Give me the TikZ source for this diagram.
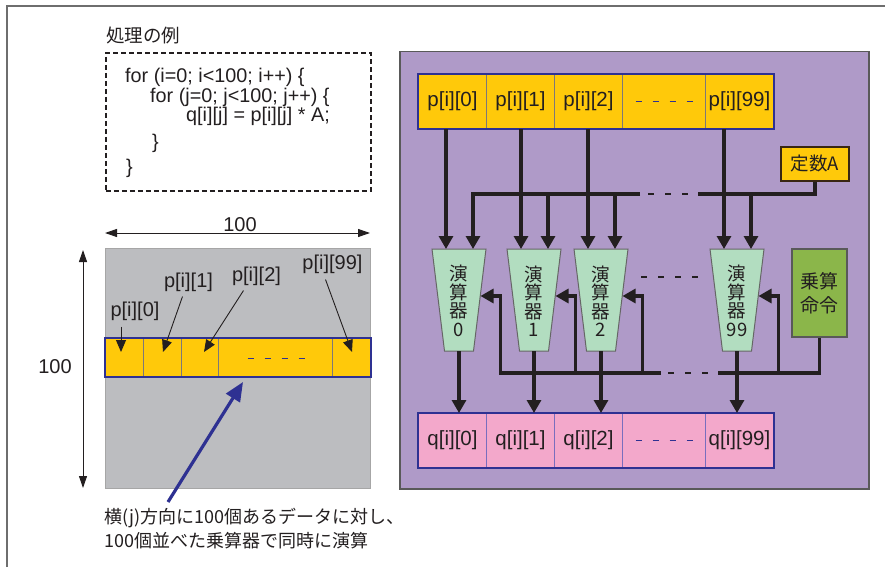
\documentclass[tikz,border=0pt]{standalone}
\usepackage{fontspec}
\setmainfont{Liberation Sans}
\newfontfamily\jp{Noto Sans CJK JP}
\usetikzlibrary{arrows.meta}
\definecolor{ylw}{RGB}{255,201,10}
\definecolor{purp}{RGB}{175,154,200}
\definecolor{gsq}{RGB}{188,189,192}
\definecolor{alug}{RGB}{178,221,192}
\definecolor{mulg}{RGB}{139,182,74}
\definecolor{pinkc}{RGB}{243,168,203}
\definecolor{navy}{RGB}{46,49,146}
\definecolor{blk}{RGB}{35,31,32}
\definecolor{divg}{RGB}{125,120,120}
\definecolor{qdiv}{RGB}{120,110,190}
\definecolor{framec}{RGB}{110,110,110}
\tikzset{
  latin/.style={font=\fontsize{20}{20}\selectfont},
  codeline/.style={anchor=west, inner sep=0pt, font=\fontsize{19.8}{19.8}\selectfont, text=blk},
  cellbox/.style={anchor=north west, inner sep=0pt, line width=1pt, minimum height=54pt, font=\fontsize{20.5}{20.5}\selectfont, text=blk},
  pcell/.style={cellbox, fill=ylw, draw=divg},
  qcell/.style={cellbox, fill=pinkc, draw=qdiv},
  lcell/.style={anchor=north west, inner sep=0pt, fill=ylw, draw=divg, line width=1pt, minimum height=38pt},
  bus/.style={draw=blk, line width=3.1pt},
  arr/.style={bus, -{Triangle[width=14pt,length=13pt]}},
  busdash/.style={draw=blk, line width=2.2pt, dash pattern=on 6pt off 11pt},
  bluedash/.style={draw=navy, line width=1.8pt, dash pattern=on 6pt off 11pt},
  thinarr/.style={draw=blk, line width=0.9pt, -{Triangle[width=10pt,length=12pt]}},
  dimarr/.style={draw=blk, line width=1pt, {Triangle[width=8pt,length=12pt]}-{Triangle[width=8pt,length=12pt]}},
  alubox/.style={fill=alug, draw=black!60, line width=1pt},
  alutext/.style={inner sep=0pt, align=center, font=\jp\fontsize{18.5}{18.5}\selectfont, text=blk},
  jplabel/.style={inner sep=0pt, font=\jp\fontsize{18.5}{24}\selectfont, text=blk}
}
\begin{document}
\begin{tikzpicture}[x=1pt,y=-1pt]
\useasboundingbox (0,0) rectangle (885,567);
\fill[white] (0,0) rectangle (885,567);
\draw[framec, line width=1.5pt] (7,567) -- (7,6) -- (885,6);

% ---------- left: code example ----------
\node[jplabel, anchor=west] (title) at (106,35) {処理の例};
\node[draw=blk, dashed, line width=1.8pt, dash pattern=on 5pt off 3pt, minimum width=265pt, minimum height=138pt, anchor=north west, inner sep=0pt] (codebox) at (105,52) {};
\node[codeline] (c1) at (125,77) {for (i=0; i<100; i++) \{};
\node[codeline] (c2) at (150,97) {for (j=0; j<100; j++) \{};
\node[codeline] (c3) at (186,116) {q[i][j] = p[i][j] * A;};
\node[codeline] (c4) at (152,143) {\}};
\node[codeline] (c5) at (126,168) {\}};

% ---------- left: data matrix ----------
\coordinate (dh1) at (105,233);
\coordinate (dh2) at (370,233);
\draw[dimarr] (dh1) -- (dh2);
\node[latin, inner sep=0pt, text=blk] (w100) at (240,225) {100};
\coordinate (dv1) at (83,250);
\coordinate (dv2) at (83,488);
\draw[dimarr] (dv1) -- (dv2);
\node[latin, inner sep=0pt, text=blk] (h100) at (55,367) {100};

\node[fill=gsq, draw=black!35, line width=1pt, minimum width=265pt, minimum height=240pt, anchor=north west, inner sep=0pt] (sq) at (105,248) {};
\node[lcell, minimum width=38pt] (l0) at (105,338) {};
\node[lcell, minimum width=38pt] (l1) at (143,338) {};
\node[lcell, minimum width=37pt] (l2) at (181,338) {};
\node[lcell, minimum width=114pt] (ld) at (218,338) {};
\node[lcell, minimum width=38pt] (l99) at (332,338) {};
\draw[navy, line width=2pt] (l0.north west) rectangle (l99.south east);
\draw[bluedash] ([xshift=-28pt,yshift=-1pt]ld.center) -- ([xshift=29pt,yshift=-1pt]ld.center);

\node[latin, inner sep=0pt, text=blk] (lab0) at (135,311) {p[i][0]};
\node[latin, inner sep=0pt, text=blk] (lab1) at (188.5,282) {p[i][1]};
\node[latin, inner sep=0pt, text=blk] (lab2) at (256.5,276) {p[i][2]};
\node[latin, inner sep=0pt, text=blk] (lab99) at (332.5,264) {p[i][99]};
\coordinate (t0) at (121,352);
\coordinate (t1) at (163,352);
\coordinate (t2) at (204,352);
\coordinate (t99) at (352,352);
\draw[thinarr] ([xshift=-14pt,yshift=-6pt]lab0.south) -- (t0);
\draw[thinarr] ([xshift=-6pt,yshift=-5pt]lab1.south) -- (t1);
\draw[thinarr] ([xshift=-13pt,yshift=-5pt]lab2.south) -- (t2);
\draw[thinarr] ([xshift=-7pt,yshift=-6pt]lab99.south) -- (t99);

\node[anchor=west, inner sep=0pt, font=\jp\fontsize{18}{20}\selectfont, text=blk] (cap1) at (104,518) {横(j)方向に100個あるデータに対し、};
\node[anchor=west, inner sep=0pt, font=\jp\fontsize{18}{20}\selectfont, text=blk] (cap2) at (104,541) {100個並べた乗算器で同時に演算};
\coordinate (bs) at (168,502);
\coordinate (bt) at (243,382);
\draw[draw=navy, line width=3.2pt, -{Triangle[width=16pt,length=19pt]}] (bs) -- (bt);

% ---------- right: hardware ----------
\node[fill=purp, draw=black!65, line width=1.5pt, minimum width=469pt, minimum height=437pt, anchor=north west, inner sep=0pt] (panel) at (399,51) {};

\node[pcell, minimum width=68pt] (p0) at (418,74) {p[i][0]};
\node[pcell, minimum width=68pt] (p1) at (486,74) {p[i][1]};
\node[pcell, minimum width=68pt] (p2) at (554,74) {p[i][2]};
\node[pcell, minimum width=83pt] (pd) at (622,74) {};
\node[pcell, minimum width=68pt] (p99) at (705,74) {p[i][99]};
\draw[navy, line width=2pt] (p0.north west) rectangle (p99.south east);
\draw[bluedash] ([xshift=-28.5pt]pd.center) -- ([xshift=28.5pt]pd.center);

\node[qcell, minimum width=68pt] (q0) at (418,413) {q[i][0]};
\node[qcell, minimum width=68pt] (q1) at (486,413) {q[i][1]};
\node[qcell, minimum width=68pt] (q2) at (554,413) {q[i][2]};
\node[qcell, minimum width=83pt] (qd) at (622,413) {};
\node[qcell, minimum width=68pt] (q99) at (705,413) {q[i][99]};
\draw[navy, line width=2pt] (q0.north west) rectangle (q99.south east);
\draw[bluedash] ([xshift=-28.5pt]qd.center) -- ([xshift=28.5pt]qd.center);

\node[fill=ylw, draw=black!70!brown, line width=1.2pt, minimum width=68pt, minimum height=34pt, inner sep=0pt, font=\jp\fontsize{18.5}{18.5}\selectfont, text=blk] (cA) at (815,164) {定数A};
\node[fill=mulg, draw=black!65, line width=1.2pt, minimum width=55pt, minimum height=88pt, inner sep=0pt, align=center, font=\jp\fontsize{19}{24}\selectfont, text=blk] (mul) at (819.5,293) {乗算\\命令};

% ALUs
\foreach \n/\c in {0/459, 1/534, 2/601, 99/737}{
  \draw[alubox] (\c-27,249) -- (\c+27,249) -- (\c+14.5,351) -- (\c-14.5,351) -- cycle;
  \node[alutext] (a\n) at (\c,301) {演\\算\\器\\\n};
  \coordinate (ina-\n) at (\c-13,249);
  \coordinate (inb-\n) at (\c+14,249);
  \coordinate (out-\n) at (\c,351);
  \coordinate (side-\n) at (\c+21.5,296);
  \coordinate (ctl-\n) at (\c+41.5,296);
}
\draw[busdash] (641,277) -- (698,277);

% data inputs
\draw[arr] (p0.south -| ina-0) -- (ina-0);
\draw[arr] (p1.south -| ina-1) -- (ina-1);
\draw[arr] (p2.south -| ina-2) -- (ina-2);
\draw[arr] (p99.south -| ina-99) -- (ina-99);

% constant bus
\draw[bus] (cA.south) |- (698,194);
\draw[arr] (640,194) -| (inb-0);
\foreach \n in {1,2,99}{
  \draw[arr] (inb-\n |- 0,194) -- (inb-\n);
}
\draw[busdash] (648,194) -- (688,194);

% instruction bus
\draw[bus] (mul.south) |- (718,373);
\draw[arr] (661,373) -| (ctl-0) -- (side-0);
\foreach \n in {1,2,99}{
  \draw[arr] (ctl-\n |- 0,373) -- (ctl-\n) -- (side-\n);
}
\draw[busdash] (668,373) -- (708,373);

% outputs
\draw[arr] (out-0) -- (out-0 |- q0.north);
\draw[arr] (out-1) -- (out-1 |- q1.north);
\draw[arr] (out-2) -- (out-2 |- q2.north);
\draw[arr] (out-99) -- (out-99 |- q99.north);
\end{tikzpicture}
\end{document}
